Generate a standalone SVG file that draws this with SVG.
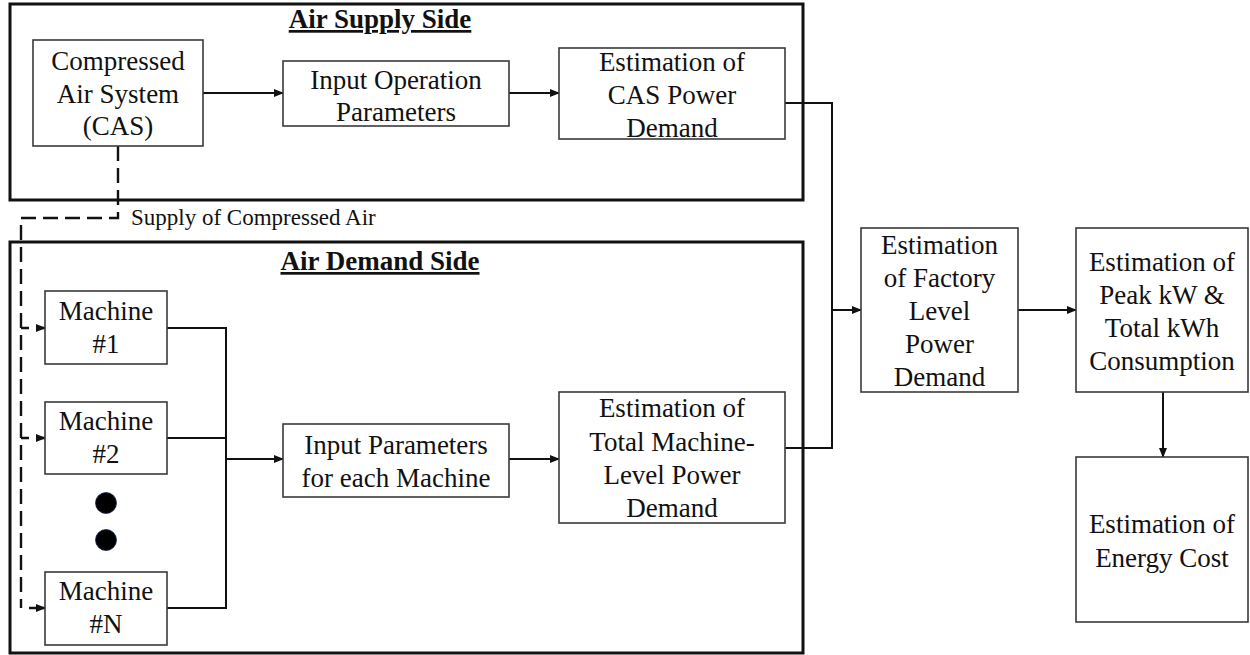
<svg xmlns="http://www.w3.org/2000/svg" width="1250" height="655" viewBox="0 0 1250 655">
<style>
text{font-family:"Liberation Serif","Times New Roman",serif;font-size:27px;fill:#111;text-anchor:middle}
.title{font-weight:bold;text-decoration:underline}
.small{font-size:23px;text-anchor:start}
.box{fill:#fff;stroke:#3a3a3a;stroke-width:1.6}
.frame{fill:none;stroke:#111;stroke-width:3}
.conn{fill:none;stroke:#111;stroke-width:2}
.dash{fill:none;stroke:#111;stroke-width:2.4;stroke-dasharray:15 7}
</style>
<defs>
<marker id="arr" markerWidth="10" markerHeight="8" refX="9" refY="4" orient="auto" markerUnits="userSpaceOnUse">
<path d="M0,0 L10,4 L0,8 Z" fill="#111"/>
</marker>
</defs>
<rect width="1250" height="655" fill="#fff"/>
<g id="air-supply-side">
<rect class="frame" x="10" y="4" width="793" height="196"/>
<text class="title" x="380" y="28">Air Supply Side</text>
</g>
<g id="air-demand-side">
<rect class="frame" x="10" y="242" width="793" height="411"/>
<text class="title" x="380" y="270">Air Demand Side</text>
</g>
<g id="connectors">
<line class="conn" x1="203" y1="93" x2="283" y2="93" marker-end="url(#arr)"/>
<line class="conn" x1="509" y1="93" x2="559" y2="93" marker-end="url(#arr)"/>
<polyline class="conn" points="785,103 832,103 832,448 785,448"/>
<line class="conn" x1="832" y1="310" x2="861" y2="310" marker-end="url(#arr)"/>
<line class="conn" x1="1018" y1="310" x2="1076" y2="310" marker-end="url(#arr)"/>
<line class="conn" x1="1163" y1="392" x2="1163" y2="457" marker-end="url(#arr)"/>
<polyline class="conn" points="167,328 226,328 226,608 167,608"/>
<line class="conn" x1="167" y1="438" x2="226" y2="438"/>
<line class="conn" x1="226" y1="459" x2="283" y2="459" marker-end="url(#arr)"/>
<line class="conn" x1="509" y1="459" x2="559" y2="459" marker-end="url(#arr)"/>
<polyline class="dash" points="118,146 118,218 21,218 21,608"/>
<line class="dash" x1="21" y1="328" x2="45" y2="328" marker-end="url(#arr)" style="stroke-dasharray:8 8"/>
<line class="dash" x1="21" y1="438" x2="45" y2="438" marker-end="url(#arr)" style="stroke-dasharray:8 8"/>
<line class="dash" x1="21" y1="608" x2="45" y2="608" marker-end="url(#arr)" style="stroke-dasharray:0 8 16"/>
<text class="small" x="131" y="225">Supply of Compressed Air</text>
</g>
<g id="cas">
<rect class="box" x="33" y="40" width="170" height="106"/>
<text x="118" y="70">Compressed</text>
<text x="118" y="103">Air System</text>
<text x="118" y="135">(CAS)</text>
</g>
<g id="input-operation-parameters">
<rect class="box" x="283" y="61" width="226" height="65"/>
<text x="396" y="89">Input Operation</text>
<text x="396" y="121">Parameters</text>
</g>
<g id="cas-power-demand">
<rect class="box" x="559" y="48" width="226" height="91"/>
<text x="672" y="71">Estimation of</text>
<text x="672" y="104">CAS Power</text>
<text x="672" y="137">Demand</text>
</g>
<g id="machine-1">
<rect class="box" x="45" y="291" width="122" height="73"/>
<text x="106" y="320">Machine</text>
<text x="106" y="353">#1</text>
</g>
<g id="machine-2">
<rect class="box" x="45" y="402" width="122" height="72"/>
<text x="106" y="430">Machine</text>
<text x="106" y="463">#2</text>
</g>
<g id="ellipsis-dots">
<circle cx="106" cy="503" r="10.5" fill="#000" stroke="#1a2a5a" stroke-width="0.8"/>
<circle cx="106" cy="540" r="10.5" fill="#000" stroke="#1a2a5a" stroke-width="0.8"/>
</g>
<g id="machine-n">
<rect class="box" x="45" y="572" width="122" height="73"/>
<text x="106" y="600">Machine</text>
<text x="106" y="633">#N</text>
</g>
<g id="input-parameters-machine">
<rect class="box" x="283" y="424" width="226" height="73"/>
<text x="396" y="454">Input Parameters</text>
<text x="396" y="487">for each Machine</text>
</g>
<g id="machine-power-demand">
<rect class="box" x="559" y="392" width="226" height="131"/>
<text x="672" y="417">Estimation of</text>
<text x="672" y="451">Total Machine-</text>
<text x="672" y="484">Level Power</text>
<text x="672" y="517">Demand</text>
</g>
<g id="factory-power-demand">
<rect class="box" x="861" y="228" width="157" height="164"/>
<text x="939.5" y="254">Estimation</text>
<text x="939.5" y="287">of Factory</text>
<text x="939.5" y="320">Level</text>
<text x="939.5" y="353">Power</text>
<text x="939.5" y="386">Demand</text>
</g>
<g id="peak-kw-kwh">
<rect class="box" x="1076" y="228" width="172" height="164"/>
<text x="1162" y="271">Estimation of</text>
<text x="1162" y="304">Peak kW &amp;</text>
<text x="1162" y="337">Total kWh</text>
<text x="1162" y="370">Consumption</text>
</g>
<g id="energy-cost">
<rect class="box" x="1076" y="457" width="172" height="165"/>
<text x="1162" y="533">Estimation of</text>
<text x="1162" y="567">Energy Cost</text>
</g>
</svg>
